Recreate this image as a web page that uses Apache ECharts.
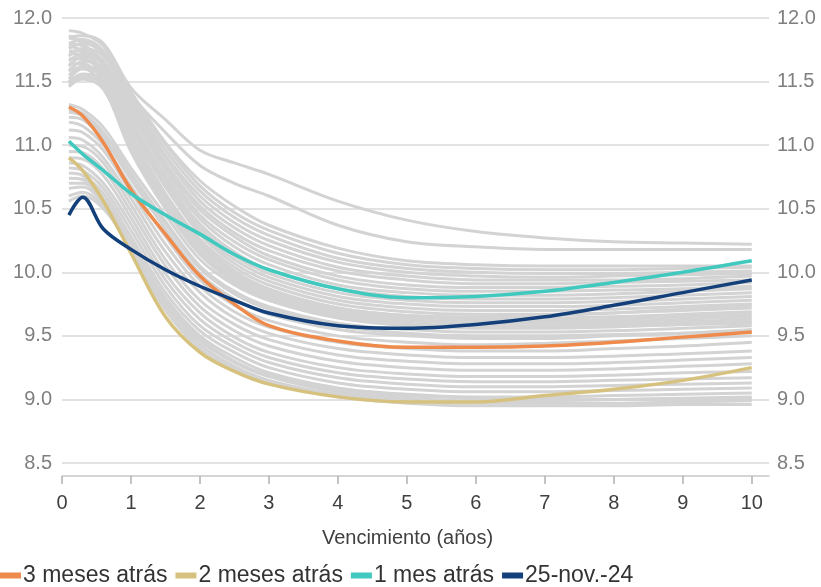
<!DOCTYPE html>
<html>
<head>
<meta charset="utf-8">
<script src="https://cdn.jsdelivr.net/npm/echarts@6/dist/echarts.min.js"></script>
<style>
html,body{margin:0;padding:0;background:#fff;}
#chart{width:821px;height:587px;}
</style>
</head>
<body>
<div id="chart"></div>
<script>
// Maturities (years) at which curve values were read
const maturities = [0.1, 0.3, 0.6, 1, 1.5, 2, 2.5, 3, 4, 5, 6, 7, 8, 9, 10];

// Highlighted curves
const tresMeses = [11.3, 11.23, 11.02, 10.65, 10.3, 9.97, 9.75, 9.58, 9.46, 9.41, 9.41, 9.42, 9.45, 9.49, 9.53];
const dosMeses  = [10.9, 10.8, 10.56, 10.15, 9.65, 9.37, 9.22, 9.12, 9.02, 8.98, 8.98, 9.03, 9.08, 9.15, 9.25];
const unMes     = [11.03, 10.93, 10.8, 10.62, 10.45, 10.3, 10.14, 10.02, 9.87, 9.8, 9.81, 9.85, 9.92, 10.0, 10.09];
const actual    = [10.45, 10.59, 10.34, 10.18, 10.02, 9.89, 9.78, 9.68, 9.58, 9.56, 9.59, 9.65, 9.74, 9.84, 9.94];

// Historical curves (grey)
const historicas = [
  [11.85, 11.86, 11.8, 11.45, 11.2, 10.96, 10.86, 10.77, 10.56, 10.41, 10.32, 10.27, 10.24, 10.23, 10.22],
  [11.8, 11.83, 11.74, 11.4, 11.1, 10.84, 10.7, 10.6, 10.37, 10.24, 10.2, 10.18, 10.18, 10.18, 10.18],
  [11.9, 11.88, 11.78, 11.42, 11.02, 10.72, 10.52, 10.37, 10.19, 10.09, 10.06, 10.05, 10.05, 10.05, 10.05],
  [11.76, 11.8, 11.72, 11.38, 11.0, 10.68, 10.47, 10.33, 10.15, 10.06, 10.03, 10.02, 10.02, 10.03, 10.04],
  [11.7, 11.76, 11.7, 11.35, 10.96, 10.64, 10.43, 10.29, 10.11, 10.03, 10.0, 9.99, 9.99, 10.0, 10.01],
  [11.84, 11.82, 11.72, 11.33, 10.92, 10.6, 10.39, 10.25, 10.08, 10.0, 9.97, 9.96, 9.97, 9.98, 9.99],
  [11.66, 11.72, 11.66, 11.3, 10.9, 10.56, 10.35, 10.21, 10.04, 9.97, 9.94, 9.94, 9.94, 9.95, 9.97],
  [11.62, 11.7, 11.64, 11.28, 10.86, 10.52, 10.31, 10.17, 10.01, 9.94, 9.91, 9.91, 9.92, 9.93, 9.94],
  [11.8, 11.78, 11.66, 11.26, 10.83, 10.49, 10.28, 10.13, 9.97, 9.9, 9.88, 9.88, 9.89, 9.9, 9.92],
  [11.58, 11.66, 11.6, 11.24, 10.8, 10.45, 10.24, 10.1, 9.94, 9.87, 9.85, 9.85, 9.86, 9.87, 9.89],
  [11.74, 11.74, 11.62, 11.2, 10.76, 10.42, 10.2, 10.06, 9.9, 9.84, 9.82, 9.82, 9.83, 9.85, 9.87],
  [11.55, 11.62, 11.56, 11.18, 10.73, 10.38, 10.16, 10.02, 9.87, 9.81, 9.79, 9.79, 9.8, 9.82, 9.84],
  [11.68, 11.68, 11.56, 11.14, 10.7, 10.35, 10.13, 9.99, 9.84, 9.78, 9.76, 9.76, 9.77, 9.79, 9.81],
  [11.52, 11.6, 11.54, 11.12, 10.67, 10.32, 10.1, 9.96, 9.81, 9.75, 9.73, 9.73, 9.74, 9.76, 9.78],
  [11.86, 11.8, 11.64, 11.16, 10.68, 10.3, 10.07, 9.93, 9.78, 9.72, 9.7, 9.7, 9.71, 9.73, 9.75],
  [11.5, 11.56, 11.5, 11.08, 10.62, 10.26, 10.04, 9.9, 9.75, 9.69, 9.67, 9.67, 9.68, 9.7, 9.72],
  [11.64, 11.64, 11.5, 11.05, 10.6, 10.24, 10.01, 9.87, 9.72, 9.66, 9.64, 9.64, 9.65, 9.67, 9.69],
  [11.48, 11.54, 11.47, 11.02, 10.57, 10.21, 9.98, 9.84, 9.7, 9.64, 9.62, 9.62, 9.63, 9.65, 9.67],
  [11.72, 11.7, 11.55, 11.04, 10.54, 10.18, 9.96, 9.82, 9.68, 9.62, 9.6, 9.6, 9.61, 9.63, 9.65],
  [11.46, 11.52, 11.44, 10.98, 10.52, 10.16, 9.94, 9.8, 9.66, 9.6, 9.58, 9.58, 9.59, 9.61, 9.63],
  [11.6, 11.6, 11.46, 10.95, 10.5, 10.14, 9.92, 9.78, 9.64, 9.58, 9.56, 9.56, 9.57, 9.59, 9.61],
  [11.78, 11.74, 11.58, 11.08, 10.6, 10.22, 10.0, 9.86, 9.72, 9.66, 9.65, 9.66, 9.68, 9.71, 9.74],
  [11.32, 11.28, 11.14, 10.82, 10.45, 10.1, 9.9, 9.78, 9.65, 9.59, 9.57, 9.57, 9.58, 9.59, 9.6],
  [11.28, 11.25, 11.1, 10.78, 10.4, 10.05, 9.85, 9.73, 9.6, 9.55, 9.53, 9.53, 9.54, 9.56, 9.58],
  [11.22, 11.2, 11.05, 10.73, 10.34, 9.99, 9.79, 9.67, 9.55, 9.5, 9.48, 9.48, 9.5, 9.52, 9.55],
  [11.18, 11.15, 11.0, 10.68, 10.28, 9.94, 9.74, 9.62, 9.5, 9.45, 9.43, 9.44, 9.46, 9.48, 9.5],
  [11.12, 11.1, 10.96, 10.63, 10.22, 9.89, 9.69, 9.57, 9.45, 9.4, 9.38, 9.38, 9.4, 9.42, 9.45],
  [11.06, 11.04, 10.9, 10.58, 10.16, 9.84, 9.64, 9.52, 9.4, 9.35, 9.33, 9.33, 9.34, 9.36, 9.38],
  [11.0, 10.99, 10.86, 10.53, 10.1, 9.78, 9.59, 9.47, 9.35, 9.3, 9.28, 9.28, 9.29, 9.31, 9.33],
  [10.95, 10.94, 10.81, 10.48, 10.05, 9.73, 9.54, 9.42, 9.3, 9.25, 9.23, 9.23, 9.24, 9.26, 9.28],
  [10.9, 10.89, 10.76, 10.43, 9.99, 9.68, 9.49, 9.37, 9.25, 9.2, 9.18, 9.18, 9.19, 9.21, 9.22],
  [10.86, 10.84, 10.7, 10.38, 9.94, 9.63, 9.45, 9.33, 9.21, 9.16, 9.14, 9.14, 9.15, 9.16, 9.17],
  [10.82, 10.8, 10.66, 10.33, 9.89, 9.58, 9.41, 9.29, 9.17, 9.12, 9.1, 9.1, 9.11, 9.12, 9.13],
  [10.78, 10.76, 10.62, 10.28, 9.84, 9.54, 9.37, 9.25, 9.13, 9.08, 9.06, 9.06, 9.07, 9.08, 9.09],
  [10.74, 10.73, 10.58, 10.24, 9.8, 9.5, 9.33, 9.21, 9.09, 9.04, 9.02, 9.02, 9.03, 9.04, 9.05],
  [10.7, 10.7, 10.56, 10.21, 9.76, 9.46, 9.29, 9.18, 9.06, 9.01, 8.99, 8.99, 9.0, 9.01, 9.02],
  [10.66, 10.67, 10.54, 10.19, 9.73, 9.43, 9.26, 9.15, 9.04, 8.99, 8.97, 8.97, 8.97, 8.98, 8.99],
  [10.6, 10.63, 10.52, 10.17, 9.7, 9.4, 9.24, 9.13, 9.02, 8.97, 8.95, 8.95, 8.95, 8.96, 8.96],
  [10.56, 10.6, 10.5, 10.2, 9.78, 9.48, 9.3, 9.19, 9.08, 9.03, 9.01, 9.0, 9.0, 9.0, 9.0],
  [11.26, 11.23, 11.08, 10.76, 10.38, 10.03, 9.83, 9.71, 9.58, 9.52, 9.5, 9.5, 9.51, 9.52, 9.53]
];

const xTicks = [0, 1, 2, 3, 4, 5, 6, 7, 8, 9, 10];

const legendNames = ['3 meses atrás', '2 meses atrás', '1 mes atrás', '25-nov.-24'];
const legendColors = ['#EE8A4B', '#D6C27E', '#41C9BF', '#13407A'];
const mainCurves = [tresMeses, dosMeses, unMes, actual];

function pairs(vals) { return maturities.map((m, i) => [m, vals[i]]); }

const series = [];
historicas.forEach((c, i) => {
  series.push({
    name: 'hist' + i, type: 'line', data: pairs(c), smooth: 0.35,
    showSymbol: false, silent: true, z: 1,
    lineStyle: { color: '#d3d3d3', width: 3 }
  });
});
mainCurves.forEach((c, i) => {
  series.push({
    name: legendNames[i], type: 'line', data: pairs(c), smooth: 0.35,
    showSymbol: false, z: 3, color: legendColors[i],
    lineStyle: { color: legendColors[i], width: 3.5 }
  });
});

const chart = echarts.init(document.getElementById('chart'), null, { renderer: 'canvas' });
const fontFam = 'Arial, "Liberation Sans", sans-serif';
chart.setOption({
  animation: false,
  backgroundColor: '#fff',
  textStyle: { fontFamily: fontFam },
  grid: { left: 62, right: 52, top: 18, bottom: 124, containLabel: false },
  legend: {
    data: legendNames, left: 0, bottom: 0, padding: [0, 0, 0, 0],
    itemWidth: 21, itemHeight: 6, itemGap: 8, icon: 'rect',
    textStyle: { fontSize: 23, color: '#333', fontFamily: fontFam, padding: [0, 0, 0, -3] }
  },
  xAxis: {
    type: 'value', min: 0, max: 10.25, offset: 13,
    name: 'Vencimiento (años)', nameLocation: 'middle', nameGap: 52,
    nameTextStyle: { fontSize: 20, color: '#404040', fontFamily: fontFam, padding: [0, 16, 0, 0] },
    axisLine: { show: true, lineStyle: { color: '#c8c8c8', width: 1.5 } },
    axisTick: { show: true, length: 8, customValues: xTicks, lineStyle: { color: '#b0b0b0', width: 1.5 } },
    axisLabel: { customValues: xTicks, margin: 17, fontSize: 20, color: '#404040', fontFamily: fontFam },
    splitLine: { show: false }
  },
  yAxis: [
    {
      type: 'value', min: 8.5, max: 12, interval: 0.5, position: 'left',
      axisLine: { show: false }, axisTick: { show: false },
      axisLabel: { margin: 10, fontSize: 20, color: '#7f7f7f', fontFamily: fontFam, formatter: v => v.toFixed(1) },
      splitLine: { show: true, lineStyle: { color: '#d9d9d9', width: 1.5 } }
    },
    {
      type: 'value', min: 8.5, max: 12, interval: 0.5, position: 'right',
      axisLine: { show: false }, axisTick: { show: false },
      axisLabel: { margin: 8, fontSize: 20, color: '#7f7f7f', fontFamily: fontFam, formatter: v => v.toFixed(1) },
      splitLine: { show: false }
    }
  ],
  series: series
});
</script>
</body>
</html>
